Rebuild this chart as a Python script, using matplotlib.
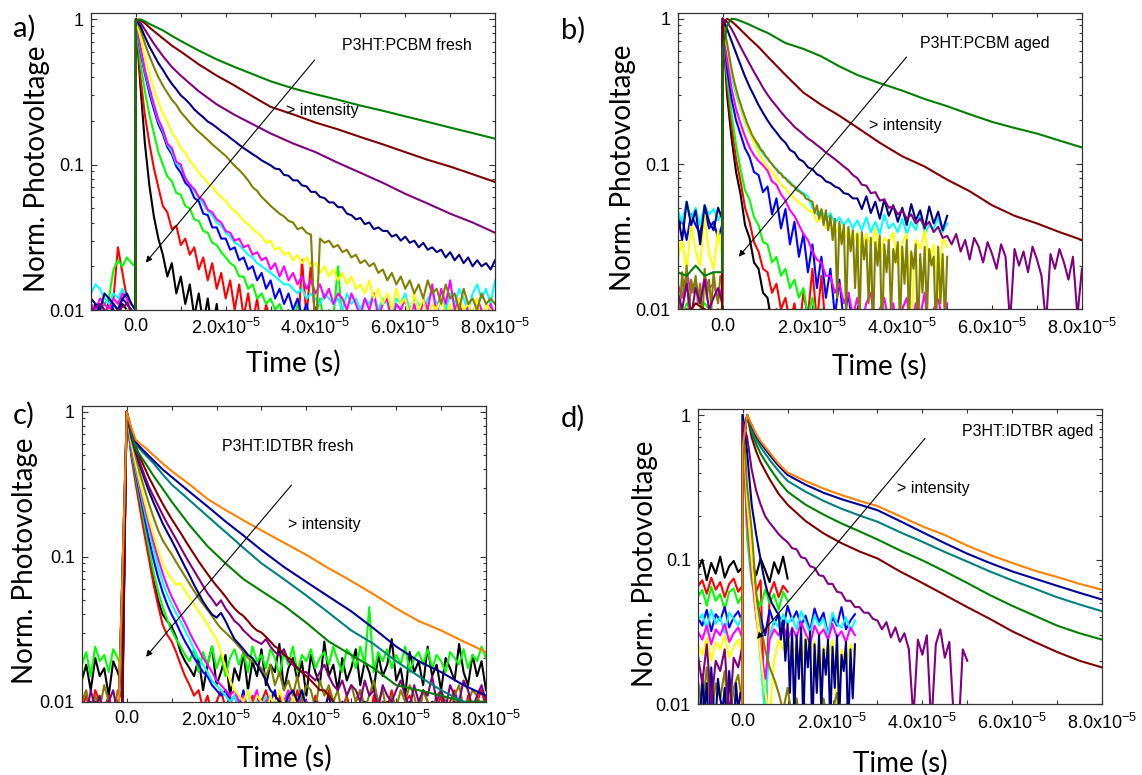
import numpy as np
import matplotlib
matplotlib.use('Agg')
import matplotlib.pyplot as plt
from matplotlib.ticker import FixedLocator, FixedFormatter, LogLocator, NullFormatter

plt.rcParams['font.family'] = ['Liberation Sans', 'DejaVu Sans']
plt.rcParams['mathtext.fontset'] = 'custom'
plt.rcParams['mathtext.rm'] = 'Liberation Sans'
plt.rcParams['mathtext.default'] = 'regular'

# ---- sample times (microseconds) ----
t_fine = np.concatenate([np.arange(-10, 0), [-0.1], np.arange(0, 81)])
t_half = np.concatenate([np.arange(-10, 0, 0.5), [-0.1], np.arange(0, 80.5, 0.5)])
t_coarse = np.array([-10, -8, -6, -4, -2, -0.1, 0, 1, 2, 3, 4, 6, 8, 10, 14, 18, 22, 26,
                     30, 35, 40, 45, 50, 55, 60, 65, 70, 75, 80])

# ---- normalised photovoltage values, in thousandths ----
# Panel a: P3HT:PCBM fresh
a_black = [9,11,10,8,12,10,9,11,10,9,8,
           1000,350,140,72,44,31,24,17,21,13,17,11,15,9,13,8,12,7,11,6,9]
a_red = [8,9,10,9,11,12,27,18,12,9,8,
         1000,400,220,140,95,70,52,47,36,38,28,31,24,27,19,23,16,21,14,18,12,16,10,15,9,13,8,12,7,11,
         8,10,6,9,7,8,6,22,9,21,8]
a_lime = [8,9,10,11,12,19,22,20,23,21,20,
          1000,500,320,220,165,122,100,83,77,64,62,52,50,42,41,35,34,29,28,25,23,21,20,17,17,14,15,12,13,11,
          12,10,11,9,10,8,11,9,10,8,9,12,8,10,9,20,8,10,7,9,6]
a_blue = [10,9,11,10,9,11,10,12,11,10,9,
          1000,600,420,310,240,190,163,132,118,97,88,75,70,59,56,46,45,37,37,31,31,26,27,22,23,19,20,16,18,14,
          16,12,14,11,13,10,12,9,11,8,9]
a_cyan = [13,15,14,12,11,13,12,14,12,11,10,
          1000,630,440,330,255,200,170,138,123,102,95,82,73,66,59,54,48,45,40,38,
          34,32,29,28,26,24,23,21,20,19,18,17,16,15,15,14,13,14,12,13,
          12,11,13,12,11,12,10,13,11,12,10,12,11,13,10,12,11,9,12,11,
          13,10,12,11,9,12,13,11,12,10,13,11,14,12,10,13,15,12,14,11,16]
a_magenta = [11,10,12,11,10,12,11,13,12,11,10,
             1000,650,450,340,260,205,175,140,130,105,100,80,73,68,60,57,49,47,42,40,
             35,34,30,31,27,28,24,25,22,23,19,21,17,20,16,18,15,17,14,16,
             13,15,12,14,11,13,12,10,13,11,9,12,10,13,9,11,12,8,11,10,
             12,9,11,8,12,10,15,9,14,11,16,10,12,8,11,9,12,10,8,11,9]
a_yellow = [8,9,8,9,10,9,8,9,10,9,8,
            1000,750,550,420,330,270,225,198,165,152,130,120,106,98,88,82,75,70,64,60,
            56,51,48,45,41,39,36,34,32,29,30,26,27,24,25,22,24,21,23,20,
            21,18,20,17,19,16,18,15,17,14,15,13,16,12,14,11,13,10,14,11,
            12,9,13,10,12,8,11,10,12,9,11,8,12,10,11,9,12,8,11,10,9]
a_olive = [8,7,8,9,8,7,8,9,8,7,8,
           1000,850,680,560,470,400,350,312,280,258,230,212,195,180,168,158,148,138,130,122,
           115,106,98,92,85,78,70,66,60,56,52,49,46,44,41,40,36,37,34,33,
           6,31,29,30,27,28,25,26,23,24,21,22,20,21,18,19,16,18,15,17,
           14,16,13,15,12,16,13,14,11,15,12,13,10,14,11,12,10,13,11,12,11]
a_navy = [12,11,10,13,12,11,10,12,13,11,10,
          1000,900,760,650,570,500,450,400,360,330,300,282,262,240,225,212,198,190,180,170,
          162,153,145,137,130,124,118,113,107,103,99,94,93,85,84,78,78,72,71,65,
          65,60,59,55,55,51,51,46,45,42,43,39,40,36,37,35,35,32,33,30,
          32,29,30,27,29,26,27,25,26,23,25,22,24,21,23,20,22,20,21,19,22]
a_purple = [10,11,9,10,11,9, 1000,950,850,760,680,560,470,410,320,260,220,190,164,140,122,103,88,75,63,54,46,40,34]
a_maroon = [5,5,5,5,5,5, 1000,990,940,880,830,740,660,600,490,410,350,295,250,222,195,175,155,138,122,108,97,86,76]
a_dkgreen = [5,5,5,5,5,5, 980,1000,970,930,900,840,770,710,610,530,470,420,375,335,305,280,255,235,215,197,180,165,151]

# Panel b: P3HT:PCBM aged
b_black = [8,9,10,9,8,9,10,9,8,9,8,
           1000,300,150,88,62,38,31,21,19,13,12,8,10,6]
b_red = [9,8,10,9,8,9,10,9,8,10,9,
         1000,350,180,108,76,50,40,29,25,19,18,13,15,10,12,8,11,7,13,9,19,8,17,7,9]
b_lime = [10,9,11,10,9,10,11,10,9,10,9,
          1000,400,220,135,92,66,57,43,38,29,28,21,23,17,19,14,16,12,14,9,12,8,10]
b_blue = [35,42,30,45,38,33,48,36,40,31,38,
          1000,450,280,200,160,128,112,88,84,64,70,45,58,36,49,28,40,23,33,18,28,14,23,12,19,9,16,8,13,7,10]
b_cyan = [48,40,55,42,50,38,52,45,49,41,47,
          1000,600,400,300,240,195,165,145,130,118,108,100,92,86,80,75,70,66,63,60,
          50,45,48,41,46,39,43,38,42,36,41,35,43,34,40,33,45,36,39,34,
          42,33,40,35,46,33,38,36,43,34,39]
b_magenta = [15,12,18,13,16,11,17,14,15,12,14,
             1000,520,330,240,190,155,130,115,105,98,90,76,72,62,56,48,44,38,33,30,
             25,22,21,17,17,13,15,11,13,9,12,8,11,13,7,10,12,8,11,6,
             10,12,7,11,9,13,6,10,12,8,11]
b_yellow = [22,30,18,40,25,20,45,24,19,35,23,
            1000,640,430,320,250,200,165,140,120,105,95,88,80,72,68,62,58,54,52,48,
            47,40,43,36,40,33,38,30,36,28,34,24,33,27,36,22,31,29,34,20,
            29,33,8,30,26,35,21,28,12,31,27]
b_olive = [14,10,18,12,20,9,16,13,17,11,15,8,19,12,16,10,18,13,11,17,15,
           1000,820,680,550,450,380,330,290,260,232,210,190,175,160,150,142,135,126,122,114,110,
           104,100,95,92,87,86,81,80,76,74,71,70,66,65,63,62,58,57,56,55,
           46,52,42,49,38,48,35,44,30,42,
           12,40,28,38,9,37,25,35,14,33,
           8,34,22,30,11,31,7,29,20,32,
           6,28,18,30,9,26,21,29,7,27,
           15,30,8,25,19,28,6,24,13,27,
           9,26,20,23,7,27,11,24,8,23]
b_navy = [45,30,55,38,48,28,52,40,35,50,42,
          1000,850,700,580,480,400,340,295,255,225,200,180,165,150,140,125,120,108,104,95,
          92,85,82,76,74,70,68,63,62,58,58,49,60,46,55,42,57,44,52,40,
          50,38,53,41,48,36,51,39,47,35,44]
b_purple = [13,10,15,9,14,11,16,10,12,14,11,
            1000,950,850,740,640,560,490,430,380,335,300,272,250,228,210,195,180,170,160,150,
            143,135,128,120,114,108,102,96,91,84,80,72,71,63,64,56,57,50,51,45,
            48,42,45,39,42,37,40,34,37,31,32,28,33,25,30,22,31,27,21,29,
            24,19,28,23,8,26,20,25,18,27,22,17,8,24,19,26,21,16,23,9,19]
b_maroon = [10,9,11,10,9,10, 900,1000,960,900,840,730,640,550,410,310,255,215,178,140,113,96,78,65,52,44,39,34,30]
b_dkgreen = [18,17,20,17,18,18, 600,900,1000,990,965,910,850,800,680,620,550,470,410,360,320,280,250,220,195,177,162,145,130]

# Panel c: P3HT:IDTBR fresh
c_black = [14,18,12,20,15,17,11,19,16,13,700,
           1000,520,340,230,150,100,68,50,40,36,33,28,22,19,17,
           15,20,12,18,24,13,16,21,11,17,14,22,12,19,15,23,13,18,16,25,
           12,17,20,14,19,11,21,16,13,26,15,18,12,20,14,17,23,13,19,16,
           12,21,15,18,27,14,17,11,22,16,19,13,24,15,18,12,20,17,14,25,
           16,13,21,15,19,12]
c_red = [9,11,8,12,10,9,11,8,10,12,700,
         1000,500,320,210,140,95,64,46,34,29,26,22,18,15,13,11,12,
         9,11,8,10,12,9,11,8,10,7,9,11,8,10,12,9,7,11,8,10,
         9,12,8,10,7,11,9,8,12,10,7,9,11,8,10,12,9,7,11,8,
         10,9,12,8,7,10,11,9,8,12,10,7,9,11,8,10,12,9,7,11,8,10,12,9]
c_lime = [18,22,15,24,19,21,16,23,20,17,700,
          1000,540,360,245,165,112,78,58,45,37,31,27,24,21,
          19,23,16,22,18,24,17,21,15,20,23,18,22,16,24,19,21,17,23,20,
          15,22,18,24,16,21,19,23,17,20,22,18,24,19,16,23,21,17,24,18,
          45,16,22,19,23,17,21,18,24,16,20,22,18,23,17,21,19,16,22,20,
          18,23,17,21,19,24,20]
c_blue = [8,7,9,6,8,9,7,8,6,7,700,
          1000,560,380,265,185,130,95,72,57,47,40,35,30,26,23,20,18,16,15,13,
          12,11,12,10,11,9,12,8,10,11,9,7,10,12,8,9,11,7,10,8,9]
c_cyan = [7,8,6,9,7,8,6,7,9,8,700,
          1000,580,400,285,205,150,112,85,67,55,47,41,36,31,27,23,20,18,16,14,
          13,12,11,10,11,9,10,12,8,10,9,11,7,10,8,9,11,8,10,7,9]
c_magenta = [7,6,8,7,9,6,8,7,6,8,700,
             1000,600,420,300,220,165,125,97,77,63,53,46,40,35,30,26,23,20,18,16,
             14,13,12,11,12,10,11,9,10,12,8,10,11,9,7,10,12,8,9,11,10]
c_yellow = [8,7,9,8,10,7,9,8,7,9,700,
            1000,620,440,320,240,180,140,110,90,78,70,64,66,58,52,47,42,38,34,30,
            27,22,17,14,12,11,10,12,9,11,10,8,11,9,12,10,8,11,9,10,8]
c_olive = [10,12,8,11,9,13,10,8,12,11,700,
           1000,660,490,370,290,230,185,152,130,116,104,92,82,73,65,58,52,47,43,39,
           35,32,30,28,26,24,22,20,19,18,17,15,18,13,16,12,14,11,15,10,
           13,12,9,14,11,13,10,12,8,11,13,10,12,9,11,14,10,12,8,11,
           9,12,10,13,11,8,12,10,9,11,12,10,8,11,13,9,10,12,11,9,10]
c_navy = [9,8,10,7,9,8,10,9,8,7,700,
          1000,680,530,420,340,280,235,200,170,148,130,113,98,85,74,64,56,49,44,40,
          38,41,36,31,27,25,23,21,20,18,16,14,12,11,10,9,11,12,10,12,
          9,8,10,7,9,11,8,7,10,9,8,7,9,10,8,7,9,8,10,7,
          8,9,7,10,8,9,7,8,10,9,7,8,9,10,7,8,9,8,10,9,8]
c_purple = [10,8,12,9,11,7,10,12,8,9,700,
            1000,700,550,440,360,300,260,225,195,170,150,132,116,102,90,80,71,63,56,51,
            46,50,44,40,36,34,31,29,27,26,25,27,24,22,21,23,19,18,17,16,
            16,15,14,16,18,15,13,12,14,11,13,12,10,14,11,12,9,13,11,10,
            12,14,11,9,13,10,12,11,15,10,12,9,13,11,10,14,12,9,11,13,10]
c_maroon = [7,9,8,10,7,8,9,7,8,10,700,
            1000,720,580,480,410,350,305,265,232,205,182,163,146,130,116,104,93,84,76,69,
            63,58,53,48,44,41,39,36,33,31,30,28,26,24,23,21,20,19,17,16,
            15,14,13,12,12,11,10,9]
c_green = [5,5,5,5,5,700, 1000,720,560,500,450,360,295,240,165,118,90,70,58,46,35,26,21,17,13,12,11,10,10]
c_teal = [5,5,5,5,5,700, 1000,750,600,550,510,440,370,315,245,190,148,115,90,70,54,41,31,25,19,15,12,10,9]
c_navytop = [5,5,5,5,5,700, 1000,760,620,570,530,460,400,355,280,222,175,140,111,85,67,53,42,32,24,19,16,13,11]
c_orange = [5,5,5,5,5,700, 1000,780,640,600,570,500,440,390,315,250,210,178,152,125,103,83,68,55,44,36,31,26,22]

# Panel d: P3HT:IDTBR aged
d_black = [85,100,72,95,80,105,75,90,98,82,88,
           1000,180,95,78,102,85,70,96,80,105,74]
d_red = [65,72,58,75,62,70,55,68,74,60,66,
         1000,160,82,60,72,6,58,70,55,66,60]
d_lime = [55,62,48,65,52,58,45,60,63,50,57,
          1000,140,70,55,48,62,50,58,45,60,52]
d_blue = [40,35,45,32,42,38,47,34,40,44,37,
          1000,200,90,55,40,30,45,36,42,33,48,38,44,35,41,32,46,37,43,30,40,35,47,33,38,42]
d_cyan = [38,42,33,45,36,40,31,43,39,35,41,
          1000,220,85,45,20,8,30,38,34,42,36,40,33,44,37,31,41,35,39,30,43,36,34,40,32,38]
d_magenta = [32,28,35,26,33,30,36,27,31,34,29,
             1000,190,80,40,25,15,28,33,30,36,27,34,29,37,31,26,35,30,33,28,36,29,32,27,34,30]
d_yellow = [26,22,29,20,27,24,30,21,25,28,23,
            1000,250,100,44,22,12,8,20,28,24,30,22,26,18,29,23,27,15,25,21,28,8,24,19,26,22]
d_olive = [15,9,18,8,14,11,17,7,13,16,10,
           1000,320,160,60,35,24,18,15,12,9,13,8,11,7,10,6,9,8,11,7,9,12,6,10,8,7]
d_navy = [12,7,16,9,14,6,18,10,8,15,11,9,13,7,17,10,6,14,9,12,11,
          1000,800,550,360,240,190,150,122,100,82,69,60,55,50,47,44,42,28,38,20,
          36,12,33,8,30,15,34,7,28,18,32,6,26,12,30,9,24,16,28,7,
          25,13,30,8,22,17,27,6,24,11,26]
d_purple = [22,14,26,10,20,17,24,8,21,18,25,
            900,700,420,300,240,200,180,165,150,140,132,120,118,104,102,90,88,78,77,68,
            68,60,59,52,52,47,47,43,43,39,38,33,37,29,34,27,31,24,8,28,
            22,30,7,26,33,21,27,8,6,24,20]
d_maroon = [5,5,5,5,5,5, 600,1000,700,560,470,360,285,240,185,152,130,114,102,83,69,57,47,39,32,27,23,20,18]
d_green = [5,5,5,5,5,5, 600,1000,760,630,540,430,350,295,240,205,178,157,138,116,99,83,69,57,48,41,35,31,28]
d_teal = [5,5,5,5,5,5, 600,1000,800,680,600,490,410,350,295,255,225,202,183,155,133,113,97,83,72,63,55,49,44]
d_bluetop = [5,5,5,5,5,5, 600,1000,840,720,640,530,445,385,330,290,262,240,220,185,155,130,110,95,83,74,66,59,53]
d_orange = [5,5,5,5,5,5, 600,1000,860,740,660,550,460,400,350,310,280,255,235,200,170,148,125,108,95,84,76,68,62]

C = {'black': '#000000', 'red': '#ff0000', 'lime': '#00ff00', 'blue': '#0000ff',
     'cyan': '#00ffff', 'magenta': '#ff00ff', 'yellow': '#ffff00', 'olive': '#808000',
     'navy': '#000080', 'purple': '#800080', 'maroon': '#800000', 'dkgreen': '#008000',
     'teal': '#008080', 'navytop': '#000096', 'orange': '#ff8000'}

F, K, Hh = t_fine, t_coarse, t_half
panels = [
    dict(label='a)', name='P3HT:PCBM fresh', rect=[0.0797, 0.600, 0.3538, 0.3828],
         name_xy=(46e-6, 0.665), int_xy=(33.4e-6, 0.237),
         arrow=((39.8e-6, 0.524), (2.2e-6, 0.0212)), plab=(13, 28),
         ylab_x=-0.101, ylab_y=0.477, xlab_y=-0.135,
         curves=[('black', F, a_black), ('red', F, a_red), ('lime', F, a_lime), ('blue', F, a_blue),
                 ('cyan', F, a_cyan), ('magenta', F, a_magenta), ('yellow', F, a_yellow),
                 ('olive', F, a_olive), ('navy', F, a_navy), ('purple', K, a_purple),
                 ('maroon', K, a_maroon), ('dkgreen', K, a_dkgreen)]),
    dict(label='b)', name='P3HT:PCBM aged', rect=[0.5934, 0.6009, 0.354, 0.3827],
         name_xy=(44e-6, 0.676), int_xy=(32.6e-6, 0.185),
         arrow=((40.96e-6, 0.545), (3.6e-6, 0.023)), plab=(561, 30),
         ylab_x=-0.103, ylab_y=0.477, xlab_y=-0.147,
         curves=[('black', F, b_black), ('red', F, b_red), ('lime', F, b_lime), ('blue', F, b_blue),
                 ('cyan', F, b_cyan), ('magenta', F, b_magenta), ('yellow', F, b_yellow),
                 ('olive', Hh, b_olive), ('navy', F, b_navy), ('purple', F, b_purple),
                 ('maroon', K, b_maroon), ('dkgreen', K, b_dkgreen)]),
    dict(label='c)', name='P3HT:IDTBR fresh', rect=[0.0716, 0.0946, 0.354, 0.3819],
         name_xy=(21.3e-6, 0.574), int_xy=(35.9e-6, 0.168),
         arrow=((36.7e-6, 0.312), (4.3e-6, 0.0204)), plab=(13, 415),
         ylab_x=-0.108, ylab_y=0.476, xlab_y=-0.146,
         curves=[('black', F, c_black), ('red', F, c_red), ('lime', F, c_lime), ('blue', F, c_blue),
                 ('cyan', F, c_cyan), ('magenta', F, c_magenta), ('yellow', F, c_yellow),
                 ('olive', F, c_olive), ('navy', F, c_navy), ('purple', F, c_purple),
                 ('maroon', F, c_maroon), ('dkgreen', K, c_green), ('teal', K, c_teal),
                 ('navytop', K, c_navytop), ('orange', K, c_orange)]),
    dict(label='d)', name='P3HT:IDTBR aged', rect=[0.611, 0.0912, 0.354, 0.381],
         name_xy=(48.75e-6, 0.767), int_xy=(34.4e-6, 0.311),
         arrow=((40.6e-6, 0.69), (3.2e-6, 0.0283)), plab=(561, 418),
         ylab_x=-0.099, ylab_y=0.476, xlab_y=-0.155,
         curves=[('black', F, d_black), ('red', F, d_red), ('lime', F, d_lime), ('blue', F, d_blue),
                 ('cyan', F, d_cyan), ('magenta', F, d_magenta), ('yellow', F, d_yellow),
                 ('olive', F, d_olive), ('navy', Hh, d_navy), ('purple', F, d_purple),
                 ('maroon', K, d_maroon), ('dkgreen', K, d_green), ('teal', K, d_teal),
                 ('navytop', K, d_bluetop), ('orange', K, d_orange)]),
]

x_major = [0, 2e-5, 4e-5, 6e-5, 8e-5]
x_labels = ['0.0', r'2.0x10$^{-5}$', r'4.0x10$^{-5}$', r'6.0x10$^{-5}$', r'8.0x10$^{-5}$']
x_minor = [-1e-5, 1e-5, 3e-5, 5e-5, 7e-5]
y_major = [0.01, 0.1, 1]
y_labels = ['0.01', '0.1', '1']

W, H = 1142, 775
fig = plt.figure(figsize=(W / 100, H / 100), dpi=100)

for p in panels:
    ax = fig.add_axes(p['rect'])
    for cname, grid, vals in p['curves']:
        v = np.asarray(vals, dtype=float) / 1000.0
        n = min(len(v), len(grid))
        ax.plot(grid[:n] * 1e-6, v[:n], color=C[cname], lw=1.5)
    ax.set_yscale('log')
    ax.set_xlim(-1e-5, 8e-5)
    ax.set_ylim(0.01, 1.1)
    ax.xaxis.set_major_locator(FixedLocator(x_major))
    ax.xaxis.set_major_formatter(FixedFormatter(x_labels))
    ax.xaxis.set_minor_locator(FixedLocator(x_minor))
    ax.yaxis.set_major_locator(FixedLocator(y_major))
    ax.yaxis.set_major_formatter(FixedFormatter(y_labels))
    ax.yaxis.set_minor_locator(LogLocator(base=10, subs=np.arange(2, 10)))
    ax.yaxis.set_minor_formatter(NullFormatter())
    ax.tick_params(which='both', direction='in', top=True, right=True, labelsize=13,
                   width=0.8, color='#333333')
    ax.tick_params(axis='x', which='both', length=3.2, pad=6)
    ax.tick_params(axis='y', which='major', length=4.5, pad=5)
    ax.tick_params(axis='y', which='minor', length=2.5)
    for s in ax.spines.values():
        s.set_linewidth(0.9)
        s.set_color('#333333')
    ax.set_xlabel('Time (s)', fontfamily='Lato', fontsize=20)
    ax.set_ylabel('Norm. Photovoltage', fontfamily='Lato', fontsize=20)
    ax.xaxis.set_label_coords(0.5, p['xlab_y'])
    ax.yaxis.set_label_coords(p['ylab_x'], p['ylab_y'])
    ax.text(p['name_xy'][0], p['name_xy'][1], p['name'], fontsize=11.5, ha='left', va='center')
    ax.text(p['int_xy'][0], p['int_xy'][1], '> intensity', fontsize=11.5, ha='left', va='center')
    (tx, ty), (hx, hy) = p['arrow']
    ax.annotate('', xy=(hx, hy), xytext=(tx, ty),
                arrowprops=dict(arrowstyle='-|>', lw=0.8, color='black',
                                mutation_scale=9, shrinkA=0, shrinkB=0))
    fig.text(p['plab'][0] / W, 1 - p['plab'][1] / H, p['label'], fontfamily='Lato',
             fontsize=21, ha='left', va='center')

fig.savefig('out.png', dpi=100)
